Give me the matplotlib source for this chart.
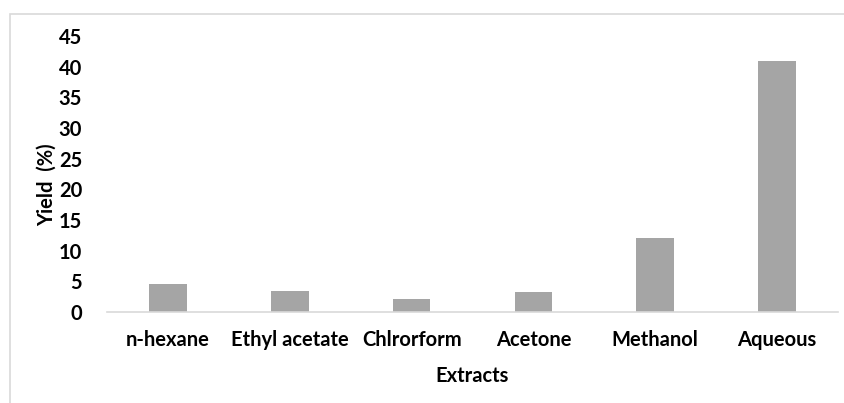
import matplotlib.pyplot as plt
from matplotlib.patches import Rectangle

extracts = ["n-hexane", "Ethyl acetate", "Chlrorform", "Acetone", "Methanol", "Aqueous"]
yield_pct = [4.5, 3.4, 2.1, 3.3, 12.0, 40.9]
y_ticks = [0, 5, 10, 15, 20, 25, 30, 35, 40, 45]

plt.rcParams['font.family'] = ['Lato', 'DejaVu Sans']

W, H = 844, 403
fig = plt.figure(figsize=(W / 100, H / 100), dpi=100)

# light frame around the chart area, like the spreadsheet export
fig.patches.append(Rectangle((10 / W, -0.2), 1.2, 1.2 - 14 / H, transform=fig.transFigure,
                             fill=False, edgecolor="#d9d9d9", linewidth=1.2))

ax = fig.add_axes([107 / W, 1 - 312 / H, (838 - 107) / W, (312 - 36) / H])
x = range(len(extracts))
ax.bar(x, yield_pct, width=0.31, color="#a5a5a5")

ax.set_xlim(-0.5, len(extracts) - 0.5)
ax.set_ylim(0, 45)
ax.set_yticks(y_ticks)
ax.set_xticks(list(x))
ax.set_xticklabels(extracts)

for side in ["top", "right", "left"]:
    ax.spines[side].set_visible(False)
ax.spines["bottom"].set_color("#d9d9d9")
ax.spines["bottom"].set_linewidth(1.2)
ax.tick_params(length=0, labelsize=14.5)
ax.tick_params(axis="x", pad=13)
ax.tick_params(axis="y", pad=18)
for lab in ax.get_xticklabels() + ax.get_yticklabels():
    lab.set_fontweight("bold")

ax.set_xlabel("Extracts", fontsize=14.5, fontweight="bold")
ax.set_ylabel("Yield  (%)", fontsize=14.5, fontweight="bold")
ax.xaxis.set_label_coords(0.5, -0.195)
ax.yaxis.set_label_coords(-0.068, 0.46)

fig.savefig("out.png", dpi=100)
